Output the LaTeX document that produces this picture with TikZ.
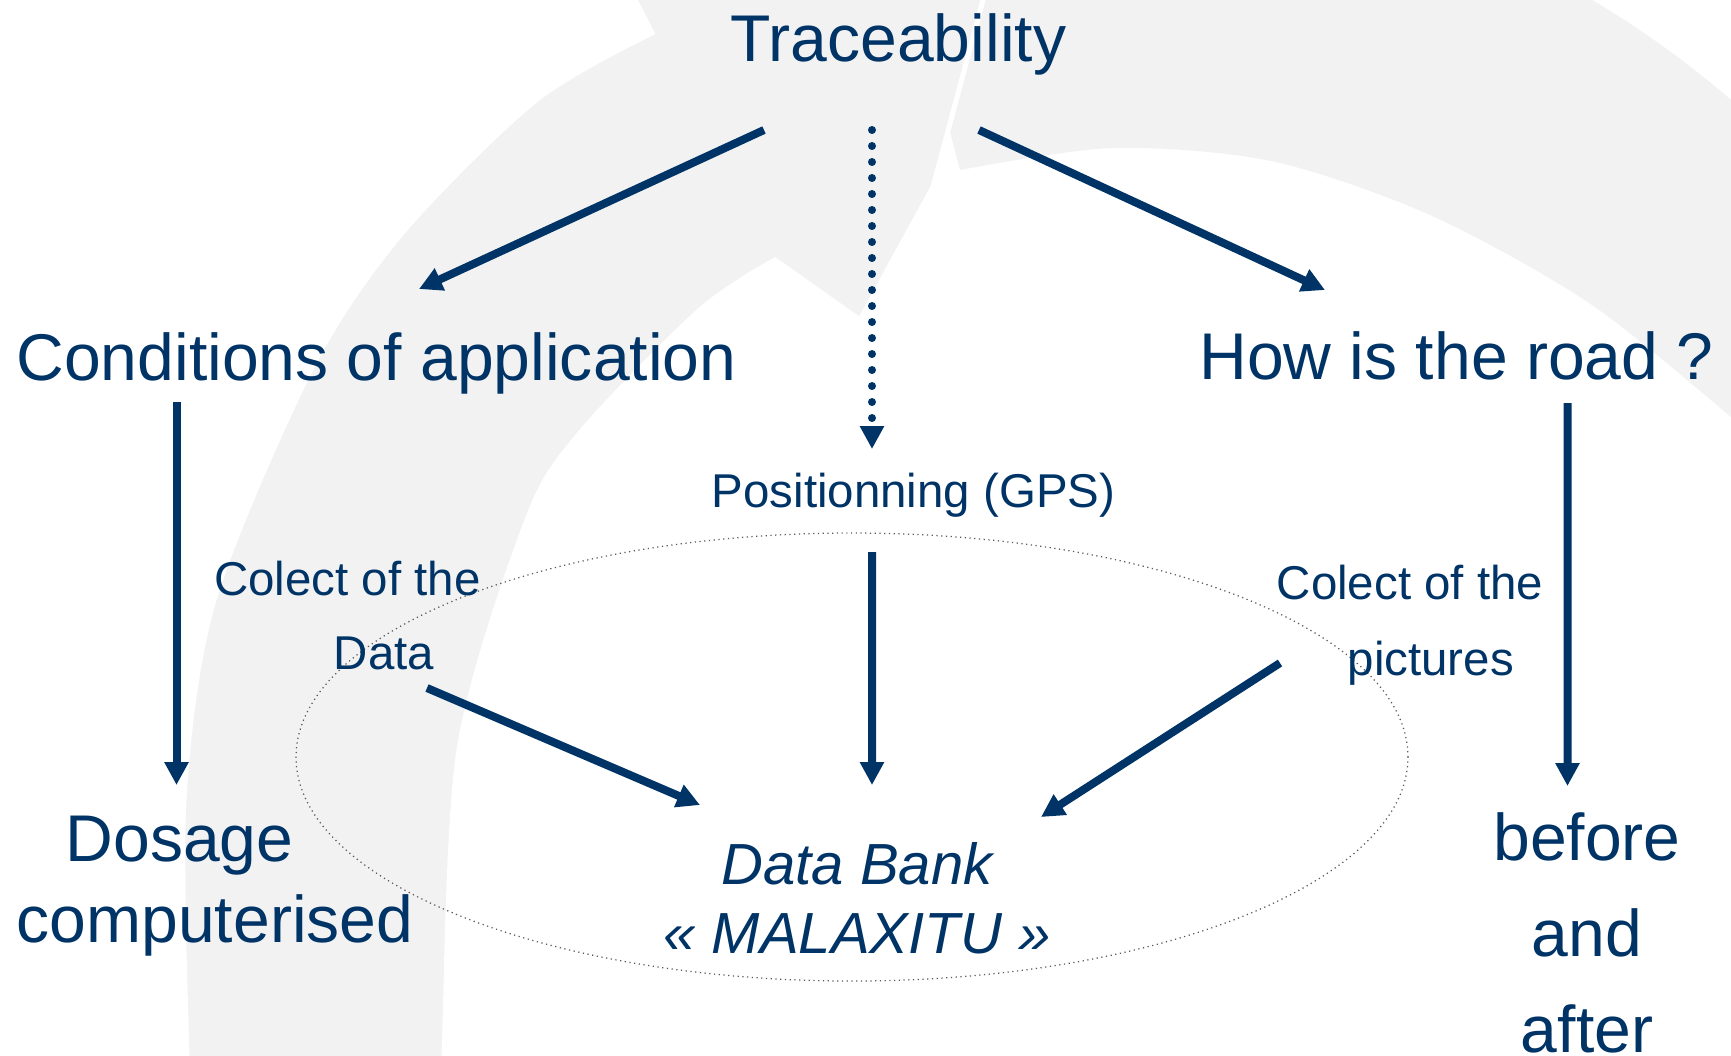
\documentclass[tikz,border=0pt]{standalone}
\usepackage{fontspec}
\setmainfont{Liberation Sans}
\usetikzlibrary{arrows.meta}
\definecolor{navy}{RGB}{0,51,102}
\definecolor{swirl}{RGB}{242,242,242}

\begin{document}
\begin{tikzpicture}[
  big/.style={
    text=navy,
    font=\fontsize{18.8}{22}\selectfont,
    inner sep=0pt,
    outer sep=0pt,
    anchor=base
  },
  small/.style={
    text=navy,
    font=\fontsize{13.5}{16}\selectfont,
    inner sep=0pt,
    outer sep=0pt,
    anchor=base
  },
  bank/.style={
    big,
    font=\fontsize{16.5}{19.6}\selectfont\itshape,
    align=center
  },
  link/.style ={draw=navy, line width=0.08cm, -{Triangle[length=0.23cm,width=0.23cm]}},
  hint/.style ={link, line cap=round, dash pattern=on 0pt off 0.16cm},
  ring/.style ={draw=black!65, line width=0.35pt, densely dotted}]

  \useasboundingbox (0,0) rectangle (17.31,-10.55);

  % background swirl
  \begin{scope}
    \clip (0,0) rectangle (17.31,-10.55);
    \fill[swirl] (9.0,0.6) -- (11,1.35) arc[start angle=90, end angle=35, radius=9.65]
      -- (18.0,-4.8)
      -- plot[smooth] coordinates {(17.9,-4.7) (17.31,-4.17) (15.89,-3.03) (14.30,-2.15)
                                   (12.71,-1.61) (11.12,-1.48) (9.6,-1.7)}
      -- cycle;
    \fill[swirl, draw=white, line width=0.05cm]
      plot[smooth] coordinates {(1.92,-11.0) (1.87,-10.55) (1.84,-8.0) (2.14,-6.0)
                                (3.12,-3.67) (4.02,-2.33) (5.36,-1.0) (6.52,-0.33)}
      -- (6.2,0.3) -- (9.91,0.3) -- (9.33,-1.87) -- (8.6,-3.2) -- (7.75,-2.6)
      -- plot[smooth] coordinates {(7.75,-2.6) (7.0,-3.1) (5.8,-4.33) (5.27,-5.2)
                                   (4.59,-7.5) (4.44,-10.55) (4.42,-11.0)}
      -- cycle;
  \end{scope}

  \draw[ring] (8.52,-7.57) ellipse [x radius=5.56, y radius=2.24];

  % first row
  \node[big] (trace) at (8.985,-0.61) {Traceability};
  % second row
  \node[big] (cond) at (3.765,-3.80) {Conditions of application};
  \node[big] (road) at (14.565,-3.79) {How is the road ?};
  % middle
  \node[small] (gps) at (9.135,-5.07) {Positionning (GPS)};
  \node[small] (colectL) at (3.475,-5.95) {Colect of the};
  \node[small] (dataL) at (3.84,-6.69) {Data};
  \node[small] (colectR) at (14.10,-5.99) {Colect of the};
  \node[small] (pictR) at (14.307,-6.75) {pictures};
  % last row
  \node[big] (dosage) at (1.795,-8.61) {Dosage};
  \node[big] (comput) at (2.15,-9.42) {computerised};
  \node[bank] (bank) at (8.57,-9.53) {Data Bank\\« MALAXITU »};
  \node[big, align=center, font=\fontsize{18.8}{27.3}\selectfont] (before) at (15.87,-10.52) {before\\and\\after};

  \draw[link] ([shift={(-1.345,-0.69)}]trace.base) -- ([shift={(0.425,0.91)}]cond.base);
  \draw[link] ([shift={(0.805,-0.69)}]trace.base) -- ([shift={(-1.315,0.89)}]road.base);
  \draw[hint] ([shift={(-0.265,-0.69)}]trace.base) -- ([shift={(-0.415,0.58)}]gps.base);
  \draw[link] ([shift={(-2.0,-0.22)}]cond.base) -- ([shift={(-0.03,0.76)}]dosage.base);
  \draw[link] ([shift={(1.11,-0.24)}]road.base) -- ([shift={(-0.195,2.66)}]before.base);
  \draw[link] ([shift={(-0.415,-0.45)}]gps.base) -- ([shift={(0.15,1.68)}]bank.base);
  \draw[link] ([shift={(0.43,-0.19)}]dataL.base) -- ([shift={(-1.57,1.48)}]bank.base);
  \draw[link] ([shift={(-1.507,0.12)}]pictR.base) -- ([shift={(1.84,1.36)}]bank.base);
\end{tikzpicture}
\end{document}
